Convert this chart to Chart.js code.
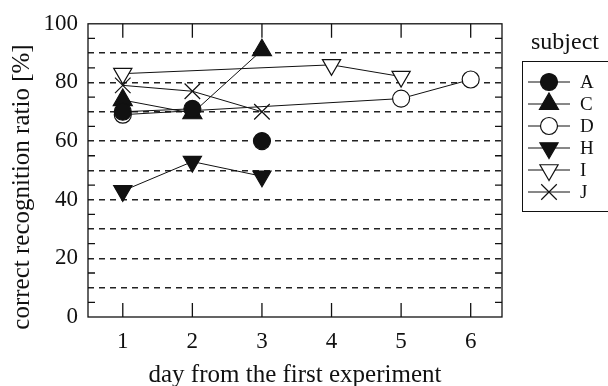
<!DOCTYPE html>
<html>
<head>
<meta charset="utf-8">
<script src="https://cdn.jsdelivr.net/npm/chart.js@4.4.1/dist/chart.umd.min.js"></script>
<style>
  html, body { margin: 0; padding: 0; background: #fff; }
  #wrap { width: 608px; height: 386px; }
</style>
</head>
<body>
<div id="wrap"><canvas id="c" width="608" height="386"></canvas></div>
<script>
// DATA
const DAYS = [1, 2, 3, 4, 5, 6];
const SUBJECTS = ['A', 'C', 'D', 'H', 'I', 'J'];
const valA = [70, 71, 60, null, null, null];
const valC = [74, 69.5, 91, null, null, null];
const valD = [69, null, null, null, 74.5, 81];
const valH = [43, 53, 48, null, null, null];
const valI = [83, null, null, 86, 82, null];
const valJ = [79, 77, 70, null, null, null];
const Y_TICKS = [0, 20, 40, 60, 80, 100];
const X_TITLE = 'day from the first experiment';
const Y_TITLE = 'correct recognition ratio [%]';

const FONT = "'Liberation Serif', 'Times New Roman', serif";
const INK = '#111';

function pts(vals) {
    return DAYS.map((d, i) => ({ x: d, y: vals[i] })).filter(p => p.y !== null);
}

// marker styles per subject
const MARK = {
    A: { style: 'circle', fill: INK, r: 8.5, rot: 0 },
    C: { style: 'triangle', fill: INK, r: 11, rot: 0 },
    D: { style: 'circle', fill: '#fff', r: 8.5, rot: 0 },
    H: { style: 'triangle', fill: INK, r: 10.5, rot: 180 },
    I: { style: 'triangle', fill: '#fff', r: 10.5, rot: 180 },
    J: { style: 'cross', fill: '#fff', r: 11, rot: 45 }
};

function mkSet(name, vals, extra) {
    const m = MARK[name];
    return Object.assign({
        label: name,
        data: pts(vals),
        borderColor: INK,
        borderWidth: 1,
        pointStyle: m.style,
        pointRotation: m.rot,
        pointRadius: m.r,
        pointBackgroundColor: m.fill,
        pointBorderColor: INK,
        pointBorderWidth: 1.2,
        spanGaps: true,
        tension: 0
    }, extra || {});
}

// inner tick marks + frame + axis titles
const framePlugin = {
    id: 'frame',
    afterDraw(chart) {
        const { ctx, chartArea: a, scales } = chart;
        ctx.save();
        ctx.strokeStyle = INK;
        ctx.lineWidth = 1.3;
        ctx.strokeRect(a.left, a.top, a.right - a.left, a.bottom - a.top);
        ctx.beginPath();
        DAYS.forEach(d => {
            const x = scales.x.getPixelForValue(d);
            ctx.moveTo(x, a.top); ctx.lineTo(x, a.top + 14);
            ctx.moveTo(x, a.bottom); ctx.lineTo(x, a.bottom - 14);
        });
        for (let v = 5; v < 100; v += 10) {
            const y = scales.y.getPixelForValue(v);
            ctx.moveTo(a.left, y); ctx.lineTo(a.left + 7, y);
            ctx.moveTo(a.right, y); ctx.lineTo(a.right - 7, y);
        }
        ctx.stroke();

        ctx.fillStyle = INK;
        ctx.font = '25px ' + FONT;
        ctx.textAlign = 'center';
        ctx.textBaseline = 'middle';
        ctx.fillText(X_TITLE, (a.left + a.right) / 2, 375);
        ctx.translate(22, 187);
        ctx.rotate(-Math.PI / 2);
        ctx.fillText(Y_TITLE, 0, 0);
        ctx.restore();
    }
};

// legend box to the right of the plot
const legendPlugin = {
    id: 'subjLegend',
    afterDraw(chart) {
        const { ctx } = chart;
        ctx.save();
        ctx.fillStyle = INK;
        ctx.font = '24px ' + FONT;
        ctx.textAlign = 'center';
        ctx.textBaseline = 'middle';
        ctx.fillText('subject', 565, 43);
        ctx.strokeStyle = INK;
        ctx.lineWidth = 1;
        ctx.strokeRect(522.5, 61.5, 90, 150);
        ctx.font = '19px ' + FONT;
        ctx.textAlign = 'left';
        chart.data.datasets.forEach((ds, i) => {
            const y = 82 + i * 22;
            ctx.strokeStyle = INK;
            ctx.lineWidth = 1;
            ctx.beginPath();
            ctx.moveTo(528, y); ctx.lineTo(570, y);
            ctx.stroke();
            const m = MARK[ds.label];
            ctx.fillStyle = m.fill;
            ctx.lineWidth = 1.2;
            Chart.helpers.drawPoint(ctx, {
                pointStyle: m.style, rotation: m.rot, radius: m.r,
                borderWidth: 1.2
            }, 549, y);
            ctx.fillStyle = INK;
            ctx.fillText(ds.label, 580, y + 1);
        });
        ctx.restore();
    }
};

new Chart(document.getElementById('c'), {
    type: 'line',
    data: {
        datasets: [
            mkSet('A', valA, { segment: { borderColor: c => c.p0DataIndex === 1 ? 'rgba(0,0,0,0)' : INK } }),
            mkSet('C', valC),
            mkSet('D', valD),
            mkSet('H', valH),
            mkSet('I', valI),
            mkSet('J', valJ)
        ]
    },
    options: {
        responsive: false,
        animation: false,
        layout: { padding: { top: 21, right: 106, left: 0, bottom: 0 } },
        plugins: { legend: { display: false }, tooltip: { enabled: false } },
        scales: {
            x: {
                type: 'linear',
                min: 0.5,
                max: 6.45,
                afterBuildTicks: s => { s.ticks = DAYS.map(v => ({ value: v })); },
                afterFit: s => { s.height = 69; },
                grid: { display: false, drawTicks: false },
                border: { display: false },
                ticks: { color: INK, font: { family: FONT, size: 23 }, padding: 11, autoSkip: false, maxRotation: 0 }
            },
            y: {
                min: 0,
                max: 100,
                afterBuildTicks: s => {
                    const t = [];
                    for (let v = 0; v <= 100; v += 10) t.push({ value: v });
                    s.ticks = t;
                },
                afterFit: s => { s.width = 88; },
                grid: {
                    drawTicks: false,
                    color: c => (c.tick.value === 0 || c.tick.value === 100) ? 'rgba(0,0,0,0)' : '#222',
                    lineWidth: 1.5
                },
                border: { display: false, dash: [6, 5] },
                ticks: {
                    color: INK, font: { family: FONT, size: 23 }, padding: 10, autoSkip: false,
                    callback: v => Y_TICKS.includes(v) ? String(v) : ''
                }
            }
        }
    },
    plugins: [framePlugin, legendPlugin]
});
</script>
</body>
</html>
